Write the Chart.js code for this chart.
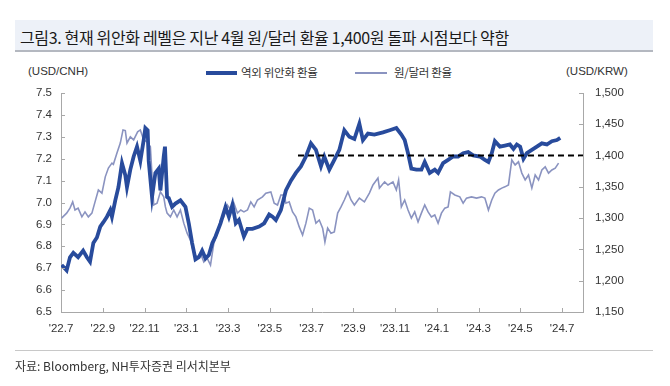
<!DOCTYPE html>
<html><head><meta charset="utf-8">
<script src="https://cdn.jsdelivr.net/npm/chart.js@4.4.1/dist/chart.umd.min.js"></script>
<style>
html,body{margin:0;padding:0;background:#fff;}
#wrap{position:relative;width:670px;height:386px;overflow:hidden;font-family:"Liberation Sans","Noto Sans CJK KR",sans-serif;color:#222;}
#titlebar{position:absolute;left:15px;top:20px;width:638px;height:30px;background:#edf1f8;border-bottom:2px solid #b4b8c0;}
#title{position:absolute;left:5px;top:5px;font-size:16px;font-family:"Noto Sans CJK KR","Liberation Sans",sans-serif;letter-spacing:-0.35px;white-space:nowrap;color:#1a1a1a;}
.lab{position:absolute;font-size:11.5px;white-space:nowrap;color:#333;}
#src{position:absolute;left:15px;top:350px;width:638px;border-top:1px solid #c8c8c8;}
#srctxt{position:absolute;left:15px;top:357px;font-size:12px;font-family:"Noto Sans CJK KR","Liberation Sans",sans-serif;letter-spacing:0px;color:#333;white-space:nowrap;}
canvas{position:absolute;left:0;top:0;}
.ls{position:absolute;}
</style></head>
<body><div id="wrap">
<div id="titlebar"><div id="title">그림3. 현재 위안화 레벨은 지난 4월 원/달러 환율 1,400원 돌파 시점보다 약함</div></div>
<div class="lab" style="left:28px;top:65px;">(USD/CNH)</div>
<div class="lab" style="left:566px;top:65px;">(USD/KRW)</div>
<div class="ls" style="left:206px;top:71px;width:31px;height:4px;background:#284b9c;"></div>
<div class="lab" style="left:241px;top:64px;font-family:'Noto Sans CJK KR',sans-serif;letter-spacing:-0.3px;">역외 위안화 환율</div>
<div class="ls" style="left:355px;top:72px;width:32px;height:1.6px;background:#8a93c0;"></div>
<div class="lab" style="left:394px;top:64px;font-family:'Noto Sans CJK KR',sans-serif;letter-spacing:-0.3px;">원/달러 환율</div>
<canvas id="c" width="670" height="386"></canvas>
<div id="src"></div>
<div id="srctxt">자료: Bloomberg, NH투자증권 리서치본부</div>
</div>
<script>
// x values are months elapsed since July 2022
const xTickLabels = ["'22.7","'22.9","'22.11","'23.1","'23.3","'23.5","'23.7","'23.9","'23.11","'24.1","'24.3","'24.5","'24.7"];
const leftTicks = [6.5,6.6,6.7,6.8,6.9,7.0,7.1,7.2,7.3,7.4,7.5];
const rightTicks = [1150,1200,1250,1300,1350,1400,1450,1500];

const cnhMonths = [0.03,0.27,0.43,0.59,0.82,1.06,1.24,1.39,1.55,1.72,1.88,2.03,2.20,2.36,2.44,2.60,2.75,2.92,3.08,3.16,3.32,3.48,3.64,3.80,3.96,4.04,4.15,4.20,4.36,4.52,4.68,4.76,4.92,4.98,5.08,5.16,5.32,5.48,5.72,5.96,6.12,6.28,6.44,6.60,6.76,6.92,7.08,7.25,7.40,7.64,7.88,8.04,8.21,8.37,8.52,8.76,8.93,9.17,9.49,9.73,9.97,10.13,10.29,10.53,10.77,11.01,11.25,11.49,11.73,11.97,12.21,12.45,12.61,12.85,13.09,13.33,13.57,13.81,14.05,14.29,14.46,14.70,15.01,15.42,15.74,16.06,16.30,16.46,16.62,16.78,17.02,17.26,17.42,17.66,17.90,18.06,18.30,18.54,18.78,19.02,19.26,19.50,19.74,20.06,20.30,20.47,20.63,20.78,21.02,21.26,21.50,21.67,21.83,21.99,22.15,22.31,22.55,22.79,23.03,23.27,23.51,23.75,23.91];
const cnhValues = [6.715,6.69,6.75,6.77,6.75,6.78,6.75,6.73,6.815,6.84,6.89,6.91,6.935,6.965,6.935,7.01,7.07,7.18,7.125,7.07,7.15,7.21,7.255,7.19,7.285,7.34,7.33,7.19,7.025,7.135,7.155,7.055,7.21,7.255,7.025,7.02,6.98,6.995,7.01,6.98,6.905,6.815,6.74,6.75,6.78,6.745,6.76,6.815,6.845,6.905,6.98,6.935,6.99,6.905,6.92,6.845,6.88,6.88,6.89,6.905,6.945,6.935,6.92,6.965,7.055,7.10,7.135,7.165,7.21,7.27,7.24,7.165,7.21,7.15,7.195,7.24,7.33,7.30,7.29,7.36,7.285,7.315,7.31,7.32,7.33,7.34,7.31,7.285,7.225,7.155,7.15,7.15,7.185,7.135,7.15,7.135,7.18,7.195,7.21,7.21,7.225,7.23,7.215,7.21,7.195,7.185,7.225,7.28,7.255,7.26,7.265,7.245,7.265,7.255,7.20,7.225,7.24,7.255,7.27,7.265,7.28,7.285,7.295];

const krwMonths = [0.03,0.27,0.43,0.56,0.67,0.82,1.00,1.15,1.31,1.48,1.63,1.79,1.96,2.12,2.27,2.44,2.51,2.68,2.84,2.97,3.08,3.16,3.32,3.48,3.67,3.80,3.96,4.12,4.28,4.44,4.60,4.76,4.92,5.00,5.08,5.24,5.40,5.56,5.72,5.88,6.04,6.20,6.36,6.52,6.68,6.84,7.00,7.16,7.32,7.49,7.64,7.80,7.97,8.13,8.28,8.45,8.61,8.76,8.93,9.09,9.25,9.41,9.65,9.81,10.05,10.21,10.37,10.53,10.69,10.77,10.93,11.09,11.25,11.41,11.57,11.73,11.89,12.05,12.21,12.37,12.53,12.64,12.77,12.93,13.09,13.25,13.41,13.57,13.74,13.89,14.05,14.29,14.53,14.77,14.94,15.18,15.25,15.50,15.66,15.90,16.06,16.17,16.30,16.46,16.62,16.78,16.94,17.10,17.26,17.42,17.58,17.74,17.90,18.06,18.22,18.38,18.54,18.65,18.86,19.10,19.26,19.42,19.66,19.90,20.14,20.30,20.47,20.63,20.78,20.95,21.11,21.26,21.43,21.59,21.75,21.91,22.07,22.23,22.39,22.55,22.71,22.87,23.03,23.19,23.35,23.51,23.67,23.83];
const krwValues = [1300,1308,1316,1326,1313,1316,1302,1310,1302,1308,1326,1345,1340,1366,1380,1388,1386,1404,1420,1441,1440,1420,1430,1425,1438,1441,1425,1422,1414,1321,1324,1342,1334,1318,1308,1302,1313,1302,1313,1292,1276,1265,1244,1238,1244,1230,1236,1225,1260,1276,1297,1302,1321,1313,1324,1308,1313,1310,1313,1326,1318,1329,1334,1340,1342,1324,1321,1337,1337,1324,1326,1310,1302,1286,1273,1292,1316,1313,1292,1297,1284,1262,1284,1276,1278,1308,1318,1329,1342,1329,1321,1332,1326,1340,1353,1364,1348,1358,1353,1358,1345,1361,1318,1329,1313,1300,1310,1294,1308,1321,1310,1302,1305,1292,1308,1316,1318,1342,1337,1334,1324,1332,1334,1332,1334,1332,1313,1329,1340,1345,1348,1350,1353,1393,1385,1390,1372,1361,1369,1348,1369,1361,1377,1382,1372,1377,1380,1388];

const refMonths = [11.35, 25];
const refValues = [1400, 1400];

const pts = (xs, ys) => xs.map((x, i) => ({x: x, y: ys[i]}));

const AXIS = '#a8a8a8';
const tickPlugin = {
  id: 'inwardTicks',
  afterDraw(chart) {
    const ctx = chart.ctx, a = chart.chartArea;
    ctx.save();
    ctx.strokeStyle = AXIS; ctx.lineWidth = 1;
    const xs = chart.scales.x;
    xs.ticks.forEach((t, i) => {
      const px = Math.round(xs.getPixelForTick(i)) + 0.5;
      ctx.beginPath(); ctx.moveTo(px, a.bottom); ctx.lineTo(px, a.bottom - 4); ctx.stroke();
    });
    const yl = chart.scales.y;
    yl.ticks.forEach((t, i) => {
      const py = Math.round(yl.getPixelForTick(i)) + 0.5;
      ctx.beginPath(); ctx.moveTo(a.left, py); ctx.lineTo(a.left + 4, py); ctx.stroke();
    });
    const yr = chart.scales.y1;
    yr.ticks.forEach((t, i) => {
      const py = Math.round(yr.getPixelForTick(i)) + 0.5;
      ctx.beginPath(); ctx.moveTo(a.right, py); ctx.lineTo(a.right - 4, py); ctx.stroke();
    });
    ctx.restore();
  }
};

const tickFont = {family: '"Liberation Sans", sans-serif', size: 11.5};
new Chart(document.getElementById('c'), {
  type: 'line',
  data: {
    datasets: [
      {label: '원/달러 환율', data: pts(krwMonths, krwValues), yAxisID: 'y1', borderColor: '#8a93c0', borderWidth: 1.6, pointRadius: 0, tension: 0, order: 2},
      {label: '역외 위안화 환율', data: pts(cnhMonths, cnhValues), yAxisID: 'y', borderColor: '#284b9c', borderWidth: 3.8, pointRadius: 0, tension: 0, order: 1},
      {label: 'ref', data: pts(refMonths, refValues), yAxisID: 'y1', borderColor: '#000', borderWidth: 2, borderDash: [6, 4], pointRadius: 0, order: 0}
    ]
  },
  options: {
    responsive: false, animation: false, devicePixelRatio: 1,
    layout: {padding: {left: 0, right: 0, top: 93, bottom: 44}},
    plugins: {legend: {display: false}, tooltip: {enabled: false}},
    scales: {
      x: {
        type: 'linear', min: 0, max: 25,
        afterBuildTicks(s) { s.ticks = xTickLabels.map((l, i) => ({value: i * 2})); },
        afterFit(s) { s.height = 30; },
        grid: {display: true, drawOnChartArea: false, drawTicks: false},
        border: {display: true, color: AXIS},
        ticks: {font: tickFont, color: '#333', padding: 10, maxRotation: 0, autoSkip: false,
          callback: (v) => xTickLabels[Math.round(v / 2)]}
      },
      y: {
        position: 'left', min: 6.5, max: 7.5,
        afterBuildTicks(s) { s.ticks = leftTicks.map(v => ({value: v})); },
        afterFit(s) { s.width = 61; },
        grid: {display: true, drawOnChartArea: false, drawTicks: false},
        border: {display: true, color: AXIS},
        ticks: {font: tickFont, color: '#333', padding: 9, callback: (v) => v.toFixed(1)}
      },
      y1: {
        position: 'right', min: 1150, max: 1500,
        afterBuildTicks(s) { s.ticks = rightTicks.map(v => ({value: v})); },
        afterFit(s) { s.width = 87; },
        grid: {display: true, drawOnChartArea: false, drawTicks: false},
        border: {display: true, color: AXIS},
        ticks: {font: tickFont, color: '#333', padding: 12, callback: (v) => v.toLocaleString('en-US')}
      }
    }
  },
  plugins: [tickPlugin]
});
</script>
</body></html>
